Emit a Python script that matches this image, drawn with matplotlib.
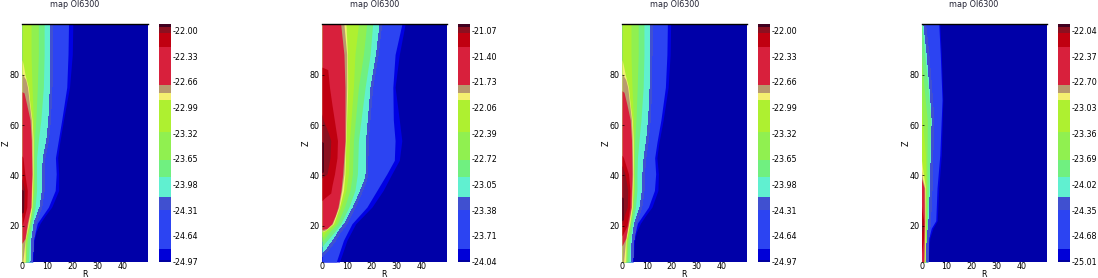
import matplotlib
matplotlib.use("Agg")
import matplotlib.pyplot as plt
from matplotlib.colors import ListedColormap, BoundaryNorm
from matplotlib.cm import ScalarMappable

W, H = 1098, 278
FS = 5.8

# map bands, from the outermost inward
band_colors = ["#0000e4", "#2c44f2", "#60f0d0", "#70f080", "#90f050", "#aef030",
               "#f4f070", "#b89a6e", "#d8203c", "#c00010", "#8b1020", "#300018"]

# each band is a list of (Z, outer R) pairs, Z ascending
p1_bands = [
    [(5.6, 4.3), (14, 4.8), (17.5, 5.6), (21, 7.2), (24, 9.2), (27.4, 11.8), (34, 14.6), (40.6, 14.6), (47, 14.2), (53, 15), (62, 16.5), (75, 18.9), (88, 20), (100, 20.2)],
    [(5.6, 4), (14, 4.5), (21, 6.1), (27.4, 10.5), (34, 13.2), (40.6, 13.6), (47, 13.3), (53, 14.3), (62, 15.8), (75, 17.8), (88, 18.3), (100, 18.5)],
    [(5.6, 3.9), (14, 4.2), (21, 5.2), (27.4, 7.5), (34, 8.5), (40.6, 8.5), (47, 8.8), (54, 10.2), (62, 11), (75, 11.6), (88, 11.8), (100, 11.8)],
    [(5.6, 2.5), (14, 3), (21, 3.9), (27.4, 5.2), (34, 5.8), (40.6, 5.8), (47, 5.8), (54, 6.5), (62, 7.5), (75, 8.5), (88, 8.8), (100, 8.8)],
    [(5.6, 1.6), (14, 2.1), (21, 3.2), (27.4, 4.2), (34, 4.8), (40.6, 4.8), (47, 4.8), (54, 4.9), (62, 5.5), (75, 6.1), (88, 6.5), (100, 6.5)],
    [(5.6, 0.9), (14, 1.6), (21, 3), (27.4, 4), (34, 4.5), (40.6, 4.5), (54, 4.5), (62, 4.5), (75, 4), (88, 3.6), (100, 3.6)],
    [(5.6, 1.3), (14, 1.2), (21, 2.8), (27.4, 3.9), (40.6, 4.4), (54, 4.4), (62, 4), (68, 3.2), (75, 2.5), (80, 1.2), (84, 0.5), (86, 0)],
    [(5.6, 0.3), (14, 1.2), (21, 2.4), (27.4, 3.6), (40.6, 4.1), (54, 4), (62, 3.7), (68, 3), (75, 2.2), (78, 1.5), (80, 0.3), (80.5, 0)],
    [(13, 0), (15, 1.2), (21, 2.1), (27.4, 3.5), (40.6, 3.9), (54, 3.7), (62, 3.2), (68, 1.9), (72.8, 0.8), (73.2, 0)],
    [(20, 0), (21, 0.3), (27.4, 1.9), (34, 2.1), (40.6, 1.1), (47, 0.4), (47.8, 0)],
    [(23, 0), (27.4, 0.8), (34, 1.1), (39, 0)],
    [(25, 0), (25.5, 0.4), (34, 0.4), (34.5, 0)],
]
p2_bands = [
    [(5.6, 7), (14.2, 10), (20.8, 13.5), (27.4, 20), (34, 24.5), (40.6, 28), (46, 31), (53.8, 32), (62, 31), (75, 29.3), (88, 31), (100, 33.3)],
    [(5.6, 5.7), (14.2, 8.6), (20.8, 12), (27.4, 18), (34, 22), (40.6, 26), (46, 29), (53.8, 29.3), (62, 28.6), (75, 28.4), (88, 29.3), (100, 32)],
    [(8.2, 0), (10.2, 2), (14.2, 5), (17.5, 7), (20.8, 9.5), (27.4, 13), (34, 15.9), (38, 17.5), (40.6, 18), (53.8, 18.2), (75, 20), (88, 22.2), (100, 23.6)],
    [(11.6, 0), (13, 1), (17.5, 5), (20.8, 7.5), (27.4, 10.8), (34, 13.2), (40.6, 14.2), (53.8, 14.6), (75, 17.3), (88, 19.3), (100, 20.3)],
    [(13.6, 0), (17.5, 3), (20.8, 6.2), (27.4, 9), (34, 11.2), (40.6, 12.2), (53.8, 12.6), (75, 14.6), (88, 16.6), (100, 17.9)],
    [(15.4, 0), (17.5, 1.5), (20.8, 5.2), (27.4, 7.6), (34, 9.6), (40.6, 10.6), (53.8, 11), (75, 12.6), (88, 13.2), (100, 14.6)],
    [(17.5, 0), (18.2, 1.5), (20.8, 4.6), (27.4, 7), (34, 8.6), (40.6, 9.2), (53.8, 9.6), (75, 10.3), (88, 10.2), (100, 9.6)],
    [(17.8, 0), (18.4, 1.5), (20.8, 4.2), (27.4, 6.7), (34, 7.9), (40.6, 8.8), (53.8, 9.4), (75, 9.9), (88, 9.9), (100, 8.8)],
    [(18.5, 0), (19, 2), (20.8, 3.9), (24, 5.3), (27.4, 6.4), (34, 7.6), (40.6, 8.3), (53.8, 9.2), (75, 9.2), (88, 8.8), (100, 7.5)],
    [(30, 0), (31, 1), (33, 3.5), (36, 4), (40.6, 5), (47, 6), (53.8, 6.2), (68, 4), (75, 3), (82, 2.3), (83, 0)],
    [(39, 0), (40.6, 2), (47, 3.2), (53.8, 3.5), (57, 2.5), (62, 0.5), (64.5, 0)],
    [(41, 0), (41.5, 0.5), (53, 0.5), (53.5, 0)],
]
p3_bands = [
    [(5.6, 4.5), (14, 5), (17.5, 5.8), (21, 7.4), (24, 9.4), (27.4, 12), (34, 14.4), (40.6, 14.6), (47, 14), (53, 14.8), (62, 16.5), (75, 18.5), (88, 19.3), (100, 19.5)],
    [(5.6, 4.1), (14, 4.6), (21, 6.2), (27.4, 10.6), (34, 13), (40.6, 13.5), (47, 13.1), (53, 14), (62, 15.6), (75, 17.4), (88, 18), (100, 18.2)],
    [(5.6, 4), (14, 4.4), (21, 5.4), (27.4, 7.6), (34, 8.5), (40.6, 8.7), (47, 9.2), (54, 10.2), (62, 11), (75, 11.6), (88, 11.7), (100, 11.7)],
    [(5.6, 2.8), (14, 3.2), (21, 4.2), (27.4, 5.4), (34, 6), (40.6, 6), (47, 6.2), (54, 6.8), (62, 7.6), (75, 8.5), (88, 8.8), (100, 8.8)],
    [(5.6, 2), (14, 2.4), (21, 3.4), (27.4, 4.5), (34, 5), (40.6, 5), (47, 5), (54, 5.1), (62, 5.6), (75, 6.1), (88, 6.5), (100, 6.5)],
    [(5.6, 1.2), (14, 2), (21, 3.3), (27.4, 4.2), (34, 4.7), (40.6, 4.7), (54, 4.7), (62, 4.6), (75, 4), (88, 3.6), (100, 3.6)],
    [(5.6, 1.5), (14, 1.6), (21, 3.1), (27.4, 4.1), (40.6, 4.6), (54, 4.5), (62, 4.1), (68, 3.3), (75, 2.6), (80, 1.3), (84, 0.5), (86, 0)],
    [(5.6, 0.6), (14, 1.4), (21, 2.7), (27.4, 3.8), (40.6, 4.3), (54, 4.1), (62, 3.8), (68, 3.1), (75, 2.3), (78, 1.5), (80, 0.3), (80.5, 0)],
    [(12, 0), (15, 1.5), (21, 2.5), (27.4, 3.6), (40.6, 4), (54, 3.8), (62, 3.3), (68, 2), (73, 0.8), (73.6, 0)],
    [(16, 0), (20, 2), (27.4, 3.1), (34, 3.2), (40.6, 2.6), (47, 0.6), (48, 0)],
    [(20, 0), (24, 0.9), (27.4, 2.1), (34, 2.3), (40.6, 1.2), (44, 0)],
    [(22, 0), (22.5, 0.4), (31, 0.4), (31.5, 0)],
]
p4_bands = [
    [(5.6, 2.6), (15, 3.3), (19, 4.6), (22, 6.3), (35, 6.9), (48, 7.9), (70, 8.5), (88, 7.9), (100, 7.3)],
    [(5.6, 2.3), (15, 2.9), (19, 3.9), (22, 5.7), (35, 6.2), (48, 7.3), (70, 8.2), (88, 7.5), (100, 6.9)],
    [(5.6, 2.3), (15, 2.6), (22, 3.3), (35, 3.9), (48, 4.2), (62, 4.6), (75, 3.7), (88, 2.6), (100, 1.3)],
    [(5.6, 2), (15, 2.2), (22, 2.3), (35, 2.9), (48, 3.3), (62, 3.7), (75, 2.6), (88, 1.3), (100, 0.2)],
    [(5.6, 1.6), (22, 2), (35, 2.2), (48, 2.2), (62, 2.3), (75, 1), (88, 0)],
    [(5.6, 1.4), (22, 1.7), (35, 1.8), (48, 1.6), (62, 0.3), (75, 0)],
    [(5.6, 1.3), (22, 1.6), (35, 1.6), (40.6, 0.7), (46, 0)],
    [(5.6, 1), (22, 1.4), (35, 1.3), (39, 0.3), (42, 0)],
    [(5.6, 0.9), (22, 1.1), (35, 1), (38, 0.2), (38.6, 0)],
    [(9, 0), (15, 0.8), (22, 0.9), (26, 0.2), (28, 0)],
    [(17, 0), (19, 0.5), (22, 0.2), (23, 0)],
]

p1_ticks = [-22.00, -22.33, -22.66, -22.99, -23.32, -23.65, -23.98, -24.31, -24.64, -24.97]
p2_ticks = [-21.07, -21.40, -21.73, -22.06, -22.39, -22.72, -23.05, -23.38, -23.71, -24.04]
p3_ticks = [-22.00, -22.33, -22.66, -22.99, -23.32, -23.65, -23.98, -24.31, -24.64, -24.97]
p4_ticks = [-22.04, -22.37, -22.70, -23.03, -23.36, -23.69, -24.02, -24.35, -24.68, -25.01]

# colour-bar band edges below the top tick value, and their colours (top to bottom)
cbar_offsets = [-0.08, -0.05, 0.034, 0.206, 0.70, 0.808, 0.894, 1.30, 1.667,
                1.88, 2.14, 2.31, 2.806, 2.957, 2.978]
cbar_colors = ["#400020", "#8b1020", "#c00010", "#d8203c", "#b89a6e", "#f4f070",
               "#aef030", "#90f050", "#70f080", "#60f0d0", "#4050d0", "#2c44f2",
               "#0000d8", "#0000a0"]

panels = [
    (p1_bands, p1_ticks, 22, 147.7, 159, 171, 75),
    (p2_bands, p2_ticks, 322, 446.7, 458, 470, 375),
    (p3_bands, p3_ticks, 622, 746.7, 758, 770, 675),
    (p4_bands, p4_ticks, 921.5, 1046.7, 1058, 1070, 974),
]

fig = plt.figure(figsize=(W / 100, H / 100), dpi=100)
top_px, bot_px = 24.3, 262

for bands, ticks, x0, x1, c0, c1, title_x in panels:
    ax = fig.add_axes([x0 / W, 1 - bot_px / H, (x1 - x0) / W, (bot_px - top_px) / H])
    ax.set_facecolor("#0000a8")
    for band, col in zip(bands, band_colors):
        zs = [p[0] for p in band]
        rs = [p[1] for p in band]
        if col == "#60f0d0":
            ax.plot(rs, zs, color="#4050d0", lw=1.2, antialiased=False)
        ax.fill_betweenx(zs, 0, rs, color=col, linewidth=0, antialiased=False)
    ax.set_xlim(0, 50)
    ax.set_ylim(5.6, 100)
    ax.set_xticks([0, 10, 20, 30, 40])
    ax.set_yticks([20, 40, 60, 80])
    ax.tick_params(axis="x", length=0, pad=0.2, labelsize=FS)
    ax.tick_params(axis="y", direction="in", length=1.5, width=0.5, pad=1.5, labelsize=FS)
    for side in ("left", "right", "bottom"):
        ax.spines[side].set_visible(False)
    ax.spines["top"].set_linewidth(1.0)
    ax.set_xlabel("R", fontsize=FS, labelpad=-0.8)
    ax.set_ylabel("Z", fontsize=FS, labelpad=-0.8)
    fig.text(title_x / W, 1 - 4.3 / H, "map OI6300", fontsize=FS, ha="center", va="center",
             color="#222233")

    cax = fig.add_axes([c0 / W, 1 - bot_px / H, (c1 - c0) / W, (bot_px - top_px) / H])
    edges = [ticks[0] - o for o in cbar_offsets][::-1]
    cmap = ListedColormap(cbar_colors[::-1])
    norm = BoundaryNorm(edges, cmap.N)
    cb = fig.colorbar(ScalarMappable(norm=norm, cmap=cmap), cax=cax, ticks=ticks,
                      spacing="proportional")
    cb.outline.set_visible(False)
    cb.ax.minorticks_off()
    cb.set_ticks(ticks)
    cb.set_ticklabels([f"{t:.2f}" for t in ticks])
    cax.tick_params(length=0, pad=1.5, labelsize=FS)

fig.savefig("out.png", dpi=100)
